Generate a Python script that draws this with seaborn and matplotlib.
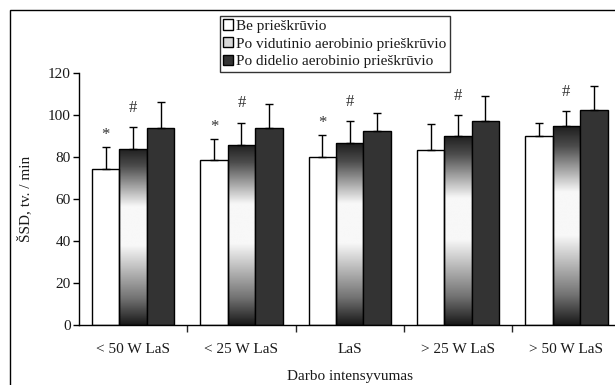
import numpy as np
import pandas as pd
import matplotlib
matplotlib.use("Agg")
import matplotlib.pyplot as plt
import seaborn as sns
from matplotlib.patches import Patch, Rectangle

# data
categories = ["< 50 W LaS", "< 25 W LaS", "LaS", "> 25 W LaS", "> 50 W LaS"]
series = ["Be prieškrūvio",
          "Po vidutinio aerobinio prieškrūvio",
          "Po didelio aerobinio prieškrūvio"]
be_mean = [74.3, 78.5, 80.0, 83.7, 90.0]
be_sd = [10.5, 10.3, 10.8, 12.0, 6.6]
vid_mean = [84.0, 86.0, 86.7, 90.3, 94.8]
vid_sd = [10.6, 10.6, 10.5, 10.0, 7.4]
did_mean = [94.2, 94.0, 92.8, 97.1, 102.4]
did_sd = [12.3, 11.3, 8.2, 12.2, 11.5]
# significance marks: (category index, series index, symbol)
marks = [(0, 0, "*"), (0, 1, "#"), (1, 0, "*"), (1, 1, "#"),
         (2, 0, "*"), (2, 1, "#"), (3, 1, "#"), (4, 1, "#")]

means = [be_mean, vid_mean, did_mean]
sds = [be_sd, vid_sd, did_sd]

df = pd.DataFrame({
    "cat": np.repeat([categories], 3, axis=0).ravel(),
    "series": np.repeat(series, len(categories)),
    "val": np.concatenate(means),
})

sns.set_theme(style="ticks")
plt.rcParams["font.family"] = ["Liberation Serif", "DejaVu Serif"]
plt.rcParams["font.size"] = 11
txt = "#1a1a1a"

fig = plt.figure(figsize=(6.15, 3.85), dpi=100)
ax = fig.add_axes([79 / 615, 1 - 325 / 385, 541.5 / 615, 251.5 / 385])

colors = ["white", "#bbbbbb", "#333333"]
sns.barplot(data=df, x="cat", y="val", hue="series", order=categories,
            hue_order=series, palette=colors, errorbar=None, width=0.76,
            edgecolor="black", linewidth=1, saturation=1, ax=ax, legend=False)
bars = list(ax.containers)

# gradient fill for the middle series: dark - white - dark
stops = [0.0, 0.1, 0.33, 0.55, 0.85, 1.0]
levels = [0.12, 0.3, 0.97, 0.97, 0.45, 0.1]
grad = np.interp(np.linspace(0, 1, 256), stops, levels)[:, None]
for p in bars[1]:
    x0, w, h = p.get_x(), p.get_width(), p.get_height()
    im = ax.imshow(grad, extent=[x0, x0 + w, 0, h], cmap="gray", vmin=0, vmax=1,
                   aspect="auto", origin="upper", zorder=p.get_zorder() - 0.05,
                   interpolation="bilinear")
    im.set_clip_path(p)
    p.set_facecolor("none")

# upper-only error bars and significance marks
for i, cont in enumerate(bars):
    xs = [p.get_x() + p.get_width() / 2 for p in cont]
    ax.errorbar(xs, means[i], yerr=[np.zeros(len(xs)), sds[i]], fmt="none",
                ecolor="black", elinewidth=1, capsize=3, capthick=1, zorder=5)

for ci, si, sym in marks:
    p = bars[si][ci]
    top = means[si][ci] + sds[si][ci]
    ax.annotate(sym, (p.get_x() + p.get_width() / 2, top),
                xytext=(0, 8 if sym == "#" else 3), textcoords="offset points",
                ha="center", va="bottom", fontsize=12, color="#333333")

ax.set_xlim(-0.5, 4.5)
ax.set_ylim(0, 120)
ax.set_yticks(range(0, 121, 20))
ax.tick_params(axis="y", length=4, width=1, pad=2, labelsize=11,
               colors="black", labelcolor=txt)
ax.tick_params(axis="x", which="major", length=0, pad=13, labelsize=11,
               labelcolor=txt)
ax.set_xticks(np.arange(0.5, 4.0, 1.0), minor=True)
ax.tick_params(axis="x", which="minor", length=5, width=1, direction="out")
for s in ["left", "bottom"]:
    ax.spines[s].set_linewidth(1)
    ax.spines[s].set_color("black")
sns.despine(ax=ax)

ax.set_ylabel("ŠSD, tv. / min", fontsize=11, labelpad=11, color=txt)
ax.set_xlabel("Darbo intensyvumas", fontsize=11, labelpad=10, color=txt)

handles = [Patch(facecolor=c, edgecolor="black", linewidth=1)
           for c in ["white", "#d8d8d8", "#333333"]]
leg = fig.legend(handles, series, loc="upper left",
                 bbox_to_anchor=(220 / 615, 1 - 16 / 385), frameon=True,
                 fancybox=False, fontsize=11, handlelength=0.65,
                 handleheight=0.65, handletextpad=0.2, labelspacing=0.28,
                 borderpad=0.22, borderaxespad=0, labelcolor=txt)
leg.get_frame().set_edgecolor("black")
leg.get_frame().set_linewidth(1)

# outer chart frame (cut off on the right and bottom)
fig.add_artist(Rectangle((10 / 615, -0.1), 2, 1.1 - 10 / 385, fill=False,
                         lw=1, ec="black", transform=fig.transFigure))

fig.savefig("out.png", dpi=100)
